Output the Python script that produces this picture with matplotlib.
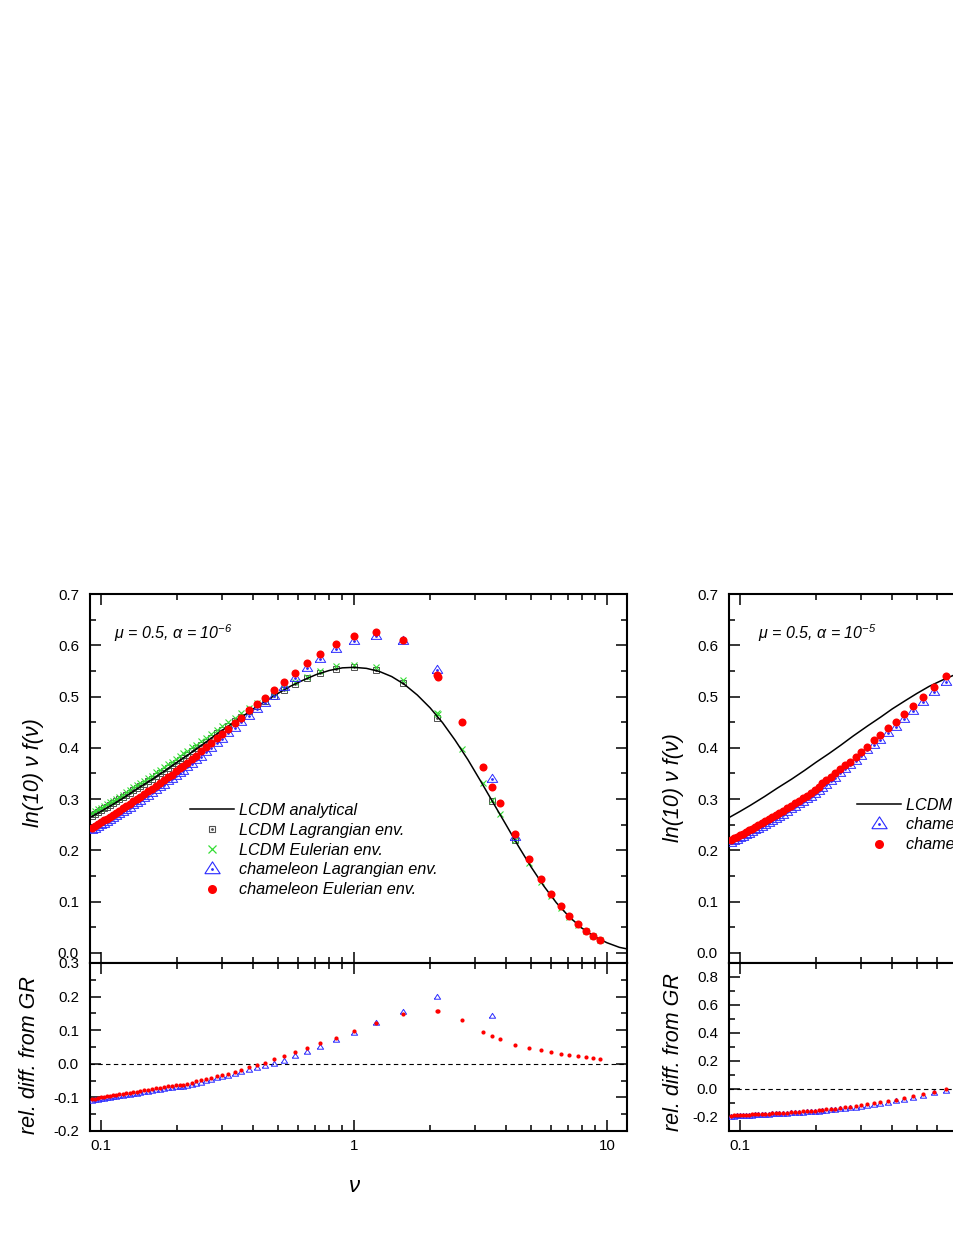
import matplotlib
matplotlib.use('Agg')
import matplotlib.pyplot as plt
from matplotlib.lines import Line2D
from matplotlib.ticker import (MultipleLocator, FixedLocator, LogLocator,
                               FormatStrFormatter, FuncFormatter, NullFormatter)
import numpy as np

plt.rcParams.update({
    'font.family': ['Liberation Sans', 'DejaVu Sans'],
    'mathtext.fontset': 'custom',
    'mathtext.rm': 'Liberation Sans:italic',
    'mathtext.it': 'Liberation Sans:italic',
    'axes.unicode_minus': False,
    'axes.linewidth': 1.5,
})

# ---------------- data ----------------
# LCDM analytical curve
nu_curve = [0.0905, 0.1, 0.11, 0.125, 0.14, 0.16, 0.18, 0.2, 0.225, 0.25,
            0.28, 0.32, 0.36, 0.4, 0.45, 0.5, 0.56, 0.63, 0.71, 0.8,
            0.9, 1.0, 1.12, 1.26, 1.41, 1.58, 1.78, 2.0, 2.24, 2.51,
            2.82, 3.16, 3.55, 3.98, 4.47, 5.01, 5.62, 6.31, 7.08, 7.94,
            8.91, 10.0, 11.2, 12.0]
f_curve = [0.264, 0.276, 0.288, 0.305, 0.321, 0.339, 0.356, 0.372, 0.389, 0.405,
           0.423, 0.443, 0.460, 0.476, 0.492, 0.506, 0.520, 0.532, 0.543, 0.551,
           0.556, 0.557, 0.555, 0.549, 0.539, 0.524, 0.503, 0.478, 0.449, 0.415,
           0.377, 0.336, 0.293, 0.251, 0.208, 0.168, 0.131, 0.098, 0.071, 0.049,
           0.032, 0.020, 0.011, 0.008]

# nu bins common to all simulated sets (nu <= 1)
nu_low = [0.0921, 0.0947, 0.0973, 0.1000, 0.1028, 0.1056, 0.1085, 0.1115, 0.1146, 0.1183,
          0.1222, 0.1261, 0.1302, 0.1344, 0.1388, 0.1432, 0.1479, 0.1534, 0.1591, 0.1650,
          0.1711, 0.1774, 0.1840, 0.1908, 0.1979, 0.2052, 0.2109, 0.2188, 0.2289, 0.2374,
          0.2484, 0.2600, 0.2721, 0.2874, 0.3008, 0.3177, 0.3386, 0.3575, 0.3846, 0.4136,
          0.4447, 0.4828, 0.5288, 0.5843, 0.6520, 0.7338, 0.8491, 1.000]
nu_eul_high = [1.222, 1.562, 2.12, 2.14, 2.673, 3.236, 3.512, 3.777, 4.329, 4.918,
               5.484, 6.006, 6.580, 7.075, 7.681, 8.260, 8.805, 9.382]
nu_lag_high = [1.222, 1.562, 2.129, 3.512, 4.329]
nu_eul = nu_low + nu_eul_high
nu_lag = nu_low + nu_lag_high
nu_lag_rel = nu_low + nu_lag_high[:4]

# left panel, mu = 0.5, alpha = 1e-6
lcdm_eul = [0.273, 0.277, 0.280, 0.283, 0.287, 0.290, 0.294, 0.297, 0.301, 0.305,
            0.309, 0.313, 0.318, 0.323, 0.327, 0.332, 0.336, 0.341, 0.346, 0.352,
            0.357, 0.362, 0.368, 0.373, 0.378, 0.384, 0.389, 0.394, 0.401, 0.406,
            0.413, 0.420, 0.427, 0.435, 0.442, 0.450, 0.459, 0.467, 0.478, 0.487,
            0.496, 0.506, 0.517, 0.528, 0.539, 0.549, 0.559, 0.562,
            0.557, 0.532, 0.468, 0.466, 0.398, 0.331, 0.299, 0.272, 0.220, 0.175,
            0.139, 0.112, 0.088, 0.071, 0.055, 0.043, 0.033, 0.026]
lcdm_lag = [0.268, 0.272, 0.275, 0.278, 0.282, 0.285, 0.289, 0.292, 0.296, 0.300,
            0.304, 0.308, 0.312, 0.317, 0.321, 0.325, 0.330, 0.335, 0.340, 0.345,
            0.350, 0.355, 0.361, 0.366, 0.371, 0.377, 0.381, 0.387, 0.393, 0.399,
            0.406, 0.412, 0.419, 0.428, 0.435, 0.443, 0.452, 0.461, 0.471, 0.481,
            0.491, 0.502, 0.513, 0.525, 0.536, 0.546, 0.554, 0.557,
            0.552, 0.527, 0.458, 0.296, 0.220]
cham_eul = [0.244, 0.248, 0.251, 0.255, 0.259, 0.262, 0.266, 0.269, 0.273, 0.277,
            0.282, 0.286, 0.291, 0.296, 0.300, 0.305, 0.310, 0.315, 0.320, 0.326,
            0.332, 0.337, 0.343, 0.348, 0.354, 0.360, 0.365, 0.371, 0.379, 0.385,
            0.393, 0.401, 0.410, 0.419, 0.427, 0.437, 0.448, 0.459, 0.473, 0.485,
            0.498, 0.513, 0.528, 0.546, 0.565, 0.583, 0.603, 0.619,
            0.626, 0.611, 0.543, 0.538, 0.450, 0.362, 0.324, 0.292, 0.232, 0.183,
            0.145, 0.116, 0.091, 0.072, 0.056, 0.043, 0.033, 0.025]
cham_lag = [0.239, 0.242, 0.245, 0.249, 0.252, 0.256, 0.260, 0.263, 0.267, 0.271,
            0.275, 0.279, 0.283, 0.289, 0.292, 0.297, 0.302, 0.307, 0.312, 0.318,
            0.323, 0.328, 0.335, 0.340, 0.345, 0.351, 0.355, 0.362, 0.369, 0.376,
            0.383, 0.391, 0.399, 0.410, 0.418, 0.428, 0.438, 0.450, 0.463, 0.475,
            0.488, 0.502, 0.518, 0.537, 0.555, 0.574, 0.593, 0.609,
            0.618, 0.608, 0.552, 0.339, 0.226]
rel_eul = [-0.105, -0.104, -0.102, -0.100, -0.099, -0.097, -0.096, -0.094, -0.093, -0.091,
           -0.089, -0.088, -0.086, -0.084, -0.083, -0.081, -0.079, -0.077, -0.075, -0.073,
           -0.071, -0.069, -0.067, -0.066, -0.064, -0.063, -0.062, -0.059, -0.056, -0.052,
           -0.049, -0.045, -0.041, -0.037, -0.033, -0.029, -0.024, -0.018, -0.011, -0.005,
           0.003, 0.013, 0.022, 0.034, 0.048, 0.061, 0.078, 0.098,
           0.122, 0.149, 0.158, 0.158, 0.131, 0.095, 0.083, 0.074, 0.057, 0.048,
           0.042, 0.036, 0.030, 0.027, 0.024, 0.021, 0.018, 0.015]
rel_lag = [-0.110, -0.109, -0.108, -0.106, -0.105, -0.103, -0.102, -0.100, -0.099, -0.097,
           -0.095, -0.094, -0.092, -0.090, -0.089, -0.087, -0.085, -0.083, -0.081, -0.079,
           -0.077, -0.075, -0.073, -0.072, -0.070, -0.069, -0.068, -0.065, -0.062, -0.059,
           -0.056, -0.052, -0.048, -0.043, -0.039, -0.035, -0.031, -0.025, -0.018, -0.012,
           -0.006, 0.000, 0.009, 0.023, 0.036, 0.051, 0.070, 0.092,
           0.122, 0.155, 0.200, 0.141]

# right panel, mu = 0.5, alpha = 1e-5 (only nu < 0.7 is inside the picture)
nu_right = nu_low[:45]
cham_eul_r = [0.221, 0.224, 0.227, 0.230, 0.233, 0.236, 0.239, 0.242, 0.245, 0.249,
              0.253, 0.257, 0.261, 0.265, 0.269, 0.273, 0.277, 0.282, 0.287, 0.292,
              0.297, 0.302, 0.307, 0.312, 0.318, 0.324, 0.331, 0.337, 0.344, 0.351,
              0.359, 0.366, 0.373, 0.383, 0.392, 0.402, 0.415, 0.425, 0.438, 0.451,
              0.466, 0.482, 0.500, 0.519, 0.540]
cham_lag_r = [0.215, 0.218, 0.221, 0.224, 0.227, 0.230, 0.233, 0.236, 0.239, 0.242,
              0.246, 0.250, 0.254, 0.258, 0.262, 0.266, 0.270, 0.275, 0.280, 0.285,
              0.290, 0.295, 0.300, 0.305, 0.310, 0.316, 0.322, 0.328, 0.335, 0.342,
              0.351, 0.358, 0.366, 0.375, 0.385, 0.395, 0.406, 0.416, 0.428, 0.441,
              0.457, 0.472, 0.490, 0.508, 0.529]
rel_eul_r = [-0.190, -0.189, -0.188, -0.187, -0.186, -0.185, -0.184, -0.182, -0.181, -0.180,
             -0.178, -0.177, -0.176, -0.174, -0.173, -0.171, -0.170, -0.168, -0.166, -0.164,
             -0.162, -0.160, -0.158, -0.156, -0.154, -0.152, -0.149, -0.146, -0.143, -0.140,
             -0.136, -0.132, -0.128, -0.122, -0.116, -0.110, -0.102, -0.095, -0.086, -0.077,
             -0.066, -0.052, -0.037, -0.019, 0.000]
rel_lag_r = [-0.198, -0.197, -0.196, -0.195, -0.194, -0.193, -0.192, -0.190, -0.189, -0.188,
             -0.186, -0.185, -0.184, -0.182, -0.181, -0.179, -0.178, -0.176, -0.174, -0.172,
             -0.170, -0.168, -0.166, -0.164, -0.163, -0.161, -0.158, -0.155, -0.152, -0.149,
             -0.145, -0.142, -0.138, -0.133, -0.127, -0.121, -0.114, -0.107, -0.098, -0.089,
             -0.078, -0.065, -0.050, -0.032, -0.013]

# ---------------- styles ----------------
RED = '#ff0000'
BLUE = '#2a2aff'
GREEN = '#33dd33'
GRAY = '#505050'
TRI = [(-1, -0.55), (1, -0.55), (0, 1.0), (-1, -0.55)]

NU_LIM = (0.0905, 12.0)
LABEL_FONT = {'fontsize': 15.5, 'style': 'italic'}

W, H = 954.0, 1234.0


def box(x0, y_top, y_bot, width=537):
    return [x0 / W, (H - y_bot) / H, width / W, (y_bot - y_top) / H]


def style_axes(ax, ylim, ymaj, ymin, xlabels):
    ax.set_xscale('log')
    ax.set_xlim(*NU_LIM)
    ax.set_ylim(*ylim)
    ax.xaxis.set_major_locator(FixedLocator([0.1, 1, 10]))
    ax.xaxis.set_minor_locator(LogLocator(base=10, subs=np.arange(2, 10) * 1.0, numticks=20))
    ax.xaxis.set_minor_formatter(NullFormatter())
    if xlabels:
        ax.xaxis.set_major_formatter(FuncFormatter(lambda v, p: '%g' % v))
    ax.yaxis.set_major_locator(MultipleLocator(ymaj))
    ax.yaxis.set_minor_locator(MultipleLocator(ymin))
    ax.yaxis.set_major_formatter(FormatStrFormatter('%.1f'))
    ax.tick_params(which='both', direction='in', top=True, right=True,
                   width=1.1, labelsize=10.8, labelbottom=xlabels)
    ax.tick_params(which='major', length=8)
    ax.tick_params(which='minor', length=4.5)
    ax.tick_params(axis='y', pad=8)
    ax.tick_params(axis='x', pad=6)


def draw_main(ax, alpha_txt, ylab_y, left):
    ax.plot(nu_curve, f_curve, color='k', lw=1.1, zorder=3)
    if left:
        ax.plot(nu_lag, lcdm_lag, ls='none', marker='s', ms=4.5, mfc='none',
                mec=GRAY, mew=0.7, zorder=2)
        ax.plot(nu_lag, lcdm_lag, ls='none', marker='o', ms=1.0, color=GRAY, zorder=2)
        ax.plot(nu_eul, lcdm_eul, ls='none', marker='x', ms=4.5, color=GREEN,
                mew=0.8, zorder=2)
        ax.plot(nu_lag, cham_lag, ls='none', marker=TRI, ms=7.5, mfc='none',
                mec=BLUE, mew=0.7, zorder=4)
        ax.plot(nu_lag, cham_lag, ls='none', marker='o', ms=1.0, color=BLUE, zorder=4)
        ax.plot(nu_eul, cham_eul, ls='none', marker='o', ms=5.8, color=RED,
                mec='none', zorder=5)
    else:
        ax.plot(nu_right, cham_lag_r, ls='none', marker=TRI, ms=7.5, mfc='none',
                mec=BLUE, mew=0.7, zorder=4)
        ax.plot(nu_right, cham_lag_r, ls='none', marker='o', ms=1.0, color=BLUE, zorder=4)
        ax.plot(nu_right, cham_eul_r, ls='none', marker='o', ms=5.8, color=RED,
                mec='none', zorder=5)

    style_axes(ax, (-0.0195, 0.7), 0.1, 0.05, False)
    ax.text(0.045 if left else 0.054, 0.893,
            r'μ = 0.5, α = $10^{%s}$' % alpha_txt,
            transform=ax.transAxes, fontsize=11.5, style='italic', va='center')
    ax.text(-0.106 if left else -0.104, ylab_y, 'ln(10) ν f(ν)',
            transform=ax.transAxes, rotation=90, ha='center', va='center', **LABEL_FONT)

    h_line = Line2D([], [], color='k', lw=1.1)
    h_sq = (Line2D([], [], ls='none', marker='s', ms=5, mfc='none', mec=GRAY, mew=0.8),
            Line2D([], [], ls='none', marker='o', ms=1.0, color=GRAY))
    h_x = Line2D([], [], ls='none', marker='x', ms=6, color=GREEN, mew=0.9)
    h_tri = (Line2D([], [], ls='none', marker=TRI, ms=11, mfc='none', mec=BLUE, mew=0.8),
             Line2D([], [], ls='none', marker='o', ms=1.0, color=BLUE))
    h_dot = Line2D([], [], ls='none', marker='o', ms=6.5, color=RED, mec='none')
    if left:
        handles = [h_line, h_sq, h_x, h_tri, h_dot]
        labels = ['LCDM analytical', 'LCDM Lagrangian env.', 'LCDM Eulerian env.',
                  'chameleon Lagrangian env.', 'chameleon Eulerian env.']
        anchor = (0.186, 0.306)
    else:
        handles = [h_line, h_tri, h_dot]
        labels = ['LCDM analytical', 'chameleon Lagrangian env.', 'chameleon Eulerian env.']
        anchor = (0.238, 0.374)
    ax.legend(handles, labels, loc='center left', bbox_to_anchor=anchor,
              frameon=False, prop={'size': 11.7, 'style': 'italic'},
              handlelength=2.7, handletextpad=0.3, labelspacing=0.3,
              borderpad=0, borderaxespad=0)


def draw_rel(ax, left, ylab_y):
    ax.axhline(0.0, color='k', lw=0.8, ls=(0, (4, 3)), zorder=1)
    if left:
        ax.plot(nu_lag_rel, rel_lag, ls='none', marker=TRI, ms=4.5, mfc='none',
                mec=BLUE, mew=0.7, zorder=3)
        ax.plot(nu_eul, rel_eul, ls='none', marker='o', ms=3.0, color=RED,
                mec='none', zorder=4)
        style_axes(ax, (-0.2, 0.3), 0.1, 0.05, True)
    else:
        ax.plot(nu_right, rel_lag_r, ls='none', marker=TRI, ms=4.5, mfc='none',
                mec=BLUE, mew=0.7, zorder=3)
        ax.plot(nu_right, rel_eul_r, ls='none', marker='o', ms=3.0, color=RED,
                mec='none', zorder=4)
        style_axes(ax, (-0.3, 0.9), 0.2, 0.1, True)
    ax.text(-0.112 if left else -0.104, ylab_y, 'rel. diff. from GR',
            transform=ax.transAxes, rotation=90, ha='center', va='center', **LABEL_FONT)
    if left:
        ax.text(0.4916, -0.333, 'ν', transform=ax.transAxes, fontsize=16,
                style='italic', ha='center', va='center')


fig = plt.figure(figsize=(W / 100, H / 100), dpi=100)

ax_main_l = fig.add_axes(box(90, 594, 963))
ax_rel_l = fig.add_axes(box(90, 963, 1131))
ax_main_r = fig.add_axes(box(729, 594, 963))
ax_rel_r = fig.add_axes(box(729, 963, 1131))

draw_main(ax_main_l, '-6', 0.515, True)
draw_rel(ax_rel_l, True, 0.452)
draw_main(ax_main_r, '-5', 0.474, False)
draw_rel(ax_rel_r, False, 0.470)

fig.savefig('out.png', dpi=100)
